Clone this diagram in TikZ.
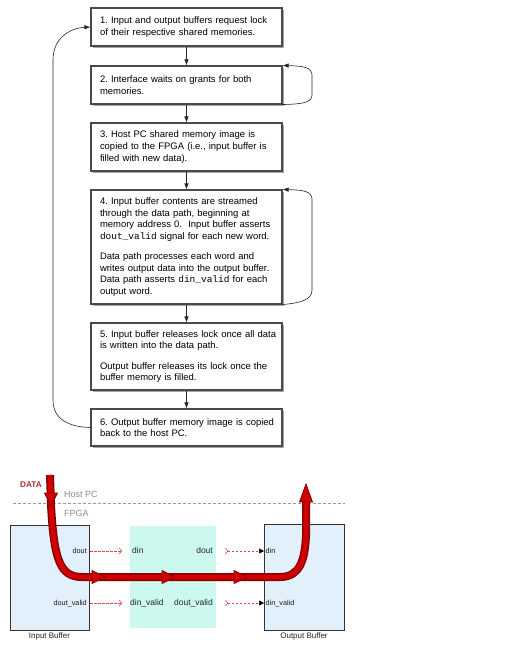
\documentclass[tikz,border=0pt]{standalone}
\usepackage{fontspec}
\setmainfont{Liberation Sans}
\setmonofont{Liberation Mono}
\usetikzlibrary{arrows.meta,shadows}
\definecolor{boxline}{HTML}{4A4A4A}
\definecolor{bufblue}{HTML}{E2F0FB}
\definecolor{cellcyan}{HTML}{CCF8F0}
\definecolor{pathred}{HTML}{D00000}
\definecolor{pathdark}{HTML}{880000}
\definecolor{dashred}{HTML}{E04848}
\definecolor{datared}{HTML}{A83030}
\frenchspacing
\begin{document}
\begin{tikzpicture}[x=1bp,y=-1bp,
  stepbox/.style={draw=boxline, line width=1.1bp, fill=white, minimum width=191bp,
    text width=173bp, inner xsep=9bp, inner ysep=0pt, align=left,
    font=\fontsize{9.5}{11.7}\selectfont,
    drop shadow={shadow xshift=2bp, shadow yshift=-2bp, fill=black!35, opacity=1}},
  flow/.style={draw=black!85, line width=0.6bp, -{Latex[length=6bp,width=4.5bp]}},
  bufbox/.style={draw=black!80, line width=0.8bp, fill=bufblue},
  caplbl/.style={font=\fontsize{8}{9}\selectfont, inner sep=1bp, text=black!85},
  portlbl/.style={font=\fontsize{7.3}{8}\selectfont, inner sep=1bp, text=black!90, text height=5.5bp, text depth=1.5bp},
  celllbl/.style={font=\fontsize{8.5}{9}\selectfont, inner sep=1bp, text=black!85, text height=6bp, text depth=1.5bp},
  reddash/.style={draw=dashred, line width=0.6bp, dash pattern=on 2.5bp off 1.5bp},
  redhead/.pic={\filldraw[fill=pathred, draw=pathdark, line width=0.8bp] (0,0) -- (-13,-6.5) -- (-13,6.5) -- cycle;},
  redheadbig/.pic={\filldraw[fill=pathred, draw=pathdark, line width=0.8bp] (0,0) -- (-18,-6.5) -- (-18,6.5) -- cycle;}
]
\useasboundingbox[fill=white] (0,0) rectangle (527,654);

% ---------- flow chart ----------
\node[stepbox, minimum height=38bp] (b1) at (186.5,27) {\mbox{1. Input and output buffers request lock}\\ \mbox{of their respective shared memories.}};
\node[stepbox, minimum height=38bp] (b2) at (186.5,85) {\mbox{2. Interface waits on grants for both}\\ memories.};
\node[stepbox, minimum height=48bp] (b3) at (186.5,147) {\mbox{3. Host PC shared memory image is}\\ \mbox{copied to the FPGA (i.e., input buffer is}\\ \mbox{filled with new data).}};
\node[stepbox, minimum height=114bp] (b4) at (186.5,247) {\mbox{4. Input buffer contents are streamed}\\ \mbox{through the data path, beginning at}\\ \mbox{memory address 0.\ \ Input buffer asserts}\\ \mbox{\texttt{dout\_valid} signal for each new word.}\\[8.5bp] \mbox{Data path processes each word and}\\ \mbox{writes output data into the output buffer.}\\ \mbox{Data path asserts \texttt{din\_valid} for each}\\ output word.};
\node[stepbox, minimum height=67bp] (b5) at (186.5,356.5) {\mbox{5. Input buffer releases lock once all data}\\ \mbox{is written into the data path.}\\[8.5bp] \mbox{Output buffer releases its lock once the}\\ \mbox{buffer memory is filled.}};
\node[stepbox, minimum height=37bp] (b6) at (186.5,427.5) {\mbox{6. Output buffer memory image is copied}\\ \mbox{back to the host PC.}};

\draw[flow] (b1) -- (b2);
\draw[flow] (b2) -- (b3);
\draw[flow] (b3) -- (b4);
\draw[flow] (b4) -- (b5);
\draw[flow] (b5) -- (b6);

\coordinate (lb) at (53,400);
\coordinate (lt) at (53,60);
\draw[flow] (b6.west) .. controls (70,427) and (53,420) .. (lb) -- (lt) .. controls (53,38) and (70,28) .. (b1.west);

\coordinate (r2b) at (312,95);
\coordinate (r2t) at (312,75);
\draw[flow] (b2.south east) .. controls (302,104) and (312,103) .. (r2b) -- (r2t) .. controls (312,67) and (302,66) .. (b2.north east);

\coordinate (r4b) at (312,290);
\coordinate (r4t) at (312,199);
\draw[flow] (b4.south east) .. controls (300,303) and (312,300) .. (r4b) -- (r4t) .. controls (312,191) and (302,190) .. (b4.north east);

% ---------- data path diagram ----------
\coordinate (dl) at (13,503);
\coordinate (dr) at (345,503);
\draw[black!40, line width=0.6bp, dash pattern=on 3bp off 2bp] (dl) -- (dr);
\node[anchor=west, inner sep=0pt, text=black!45, font=\fontsize{9}{10}\selectfont] (hostpc) at (64,494) {Host PC};
\node[anchor=west, inner sep=0pt, text=black!45, font=\fontsize{9}{10}\selectfont] (fpga) at (64,513) {FPGA};
\node[inner sep=0pt, text=datared, font=\bfseries\fontsize{8.3}{9}\selectfont] (data) at (31,485) {DATA};

\node[bufbox, minimum width=79bp, minimum height=105bp] (ib) at (49.5,577.5) {};
\node[fill=cellcyan, draw=none, minimum width=86bp, minimum height=102bp] (cell) at (173,577) {};
\node[bufbox, minimum width=80bp, minimum height=106bp] (ob) at (304,577) {};
\node[caplbl] (ibl) at (49.5,636) {Input Buffer};
\node[caplbl] (obl) at (304,636) {Output Buffer};

\node[portlbl, anchor=east] (ibdout) at (88,551) {dout};
\node[portlbl, anchor=east] (ibdv) at (88,603) {dout\_valid};
\node[celllbl, anchor=west] (cdin) at (131,551) {din};
\node[celllbl, anchor=east] (cdout) at (214,551) {dout};
\node[celllbl, anchor=west] (cdinv) at (129,603) {din\_valid};
\node[celllbl, anchor=east] (cdoutv) at (214,603) {dout\_valid};
\node[portlbl, anchor=west] (obdin) at (264.5,551) {din};
\node[portlbl, anchor=west] (obdinv) at (264.5,603) {din\_valid};

\draw[reddash, -{Straight Barb[length=2.5bp,width=6bp]}, shorten <=2bp, shorten >=9bp] (ibdout.east) -- (cdin.west);
\draw[reddash, -{Straight Barb[length=2.5bp,width=6bp]}, shorten <=2bp, shorten >=7bp] (ibdv.east) -- (cdinv.west);
\draw[reddash, {Straight Barb[reversed,length=2.5bp,width=6bp]}-{Triangle[length=5bp,width=5bp,color=black,fill=black]}, shorten <=11bp, shorten >=0.5bp] (cdout.east) -- (obdin.west);
\draw[reddash, {Straight Barb[reversed,length=2.5bp,width=6bp]}-{Triangle[length=5bp,width=5bp,color=black,fill=black]}, shorten <=11bp, shorten >=0.5bp] (cdoutv.east) -- (obdinv.west);

% red data flow
\coordinate (p0) at (50,475);
\coordinate (p1) at (51,505);
\coordinate (p2) at (82,577);
\coordinate (p3) at (280,577);
\coordinate (p4) at (306,535);
\coordinate (p5) at (306,500);
\draw[pathdark, line width=8bp, postaction={draw=pathred, line width=5bp}]
  (p0) -- (p1) .. controls (54,560) and (60,577) .. (p2) -- (p3) .. controls (300,577) and (305,560) .. (p4) -- (p5);
\pic[rotate=-90] at (51,506) {redhead};
\pic at (105,577) {redhead};
\pic at (175,577) {redhead};
\pic at (247,577) {redhead};
\pic[rotate=90] at (306,484) {redheadbig};
\end{tikzpicture}
\end{document}
